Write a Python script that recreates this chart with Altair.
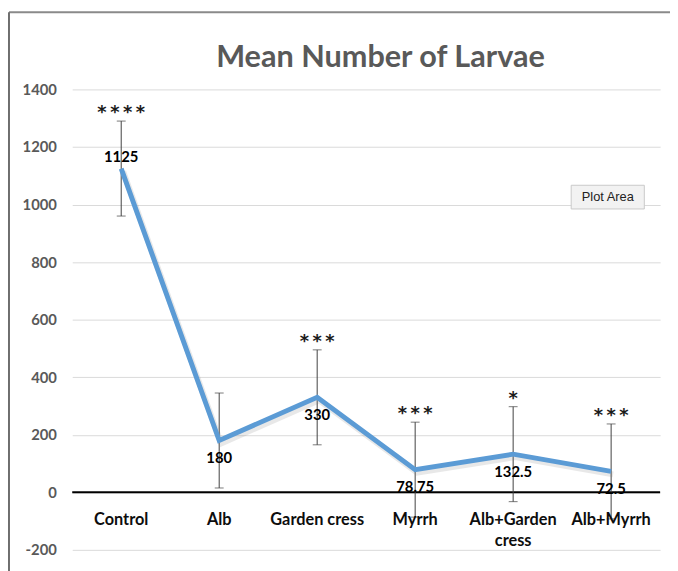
import altair as alt
import pandas as pd

categories = ["Control", "Alb", "Garden cress", "Myrrh", "Alb+Garden cress", "Alb+Myrrh"]
axis_labels = ["Control", "Alb", "Garden cress", "Myrrh", "Alb+Garden\ncress", "Alb+Myrrh"]
means = [1125, 180, 330, 78.75, 132.5, 72.5]
errors = [165, 165, 165, 165, 165, 165]
stars = ["****", "", "***", "***", "*", "***"]
value_labels = ["1125", "180", "330", "78.75", "132.5", "72.5"]
y_ticks = [-200, 0, 200, 400, 600, 800, 1000, 1200, 1400]

THIN = "\u2009"
df = pd.DataFrame({
    "cat": categories,
    "lab": axis_labels,
    "mean": means,
    "err": errors,
    "stars": stars,
    "vlab": value_labels,
})
df["lo"] = df["mean"] - df["err"]
df["hi"] = df["mean"] + df["err"]
df["sp"] = [THIN.join(list(s)) for s in stars]

FONT = "Lato"
W, H = 595, 466

xenc = alt.X("cat:N", sort=categories, axis=None,
             scale=alt.Scale(type="point", padding=0.5))
yscale = alt.Scale(domain=[-200, 1400], nice=False, zero=False)

base = alt.Chart(df)

grid = base.mark_point(opacity=0).encode(
    x=xenc,
    y=alt.Y("mean:Q", scale=yscale, title=None,
            axis=alt.Axis(values=y_ticks, grid=True, gridColor="#d9d9d9",
                          gridWidth=1, domain=False, ticks=False,
                          labelExpr="'' + datum.value",
                          labelPadding=16, labelFont=FONT, labelFontSize=15,
                          labelFontWeight="bold", labelColor="#595959")),
)

zero = alt.Chart(pd.DataFrame({"z": [0]})).mark_rule(color="black", strokeWidth=2).encode(
    y=alt.Y("z:Q", scale=yscale), x=alt.value(0), x2=alt.value(W)
)

shadow = base.mark_line(color="#7f7f7f", strokeWidth=6, opacity=0.18,
                        xOffset=2, yOffset=3, strokeJoin="miter").encode(
    x=xenc, y=alt.Y("mean:Q", scale=yscale)
)
line = base.mark_line(color="#5b9bd5", strokeWidth=5, strokeJoin="miter").encode(
    x=xenc, y=alt.Y("mean:Q", scale=yscale)
)

ebar = base.mark_rule(color="#404040", strokeWidth=1).encode(
    x=xenc, y=alt.Y("lo:Q", scale=yscale), y2="hi:Q"
)
cap_hi = base.mark_tick(color="#404040", thickness=1, size=9, orient="horizontal").encode(
    x=xenc, y=alt.Y("hi:Q", scale=yscale)
)
cap_lo = base.mark_tick(color="#404040", thickness=1, size=9, orient="horizontal").encode(
    x=xenc, y=alt.Y("lo:Q", scale=yscale)
)

star_txt = base.mark_text(font="DejaVu Sans", fontSize=18, fontWeight="bold", color="#1a1a1a",
                          baseline="alphabetic", dy=-3).encode(
    x=xenc, y=alt.Y("hi:Q", scale=yscale), text="sp:N"
)

top_lab = base.transform_filter(alt.datum.cat == "Control").mark_text(
    font=FONT, fontSize=15, fontWeight="bold", color="black", baseline="middle", dy=-12
).encode(x=xenc, y=alt.Y("mean:Q", scale=yscale), text="vlab:N")
bot_lab = base.transform_filter(alt.datum.cat != "Control").mark_text(
    font=FONT, fontSize=15, fontWeight="bold", color="black", baseline="middle", dy=18
).encode(x=xenc, y=alt.Y("mean:Q", scale=yscale), text="vlab:N")

xlab = base.mark_text(font=FONT, fontSize=16.5, fontWeight="bold", color="#0d0d0d",
                      baseline="top", dy=20, lineBreak="\n", lineHeight=21).encode(
    x=xenc, y=alt.datum(0), text="lab:N"
)

title = alt.Chart(pd.DataFrame({"t": ["Mean Number of Larvae"]})).mark_text(
    font=FONT, fontSize=31, fontWeight="bold", color="#595959", baseline="middle"
).encode(x=alt.value(312), y=alt.value(-32), text="t:N")

tip_box = alt.Chart(pd.DataFrame({"t": ["Plot Area"]})).mark_rect(
    fill="#f2f2f2", stroke="#c8c8c8", strokeWidth=1
).encode(x=alt.value(505), x2=alt.value(579), y=alt.value(97), y2=alt.value(121))
tip_txt = alt.Chart(pd.DataFrame({"t": ["Plot Area"]})).mark_text(
    font="Liberation Sans", fontSize=13, color="#222222", baseline="middle"
).encode(x=alt.value(542), y=alt.value(109), text="t:N")

frame_top = alt.Chart(pd.DataFrame({"t": [0]})).mark_rule(color="#8a8a8a", strokeWidth=2).encode(
    x=alt.value(-64), x2=alt.value(620), y=alt.value(-78)
)
frame_left = alt.Chart(pd.DataFrame({"t": [0]})).mark_rule(color="#6e6e6e", strokeWidth=2).encode(
    x=alt.value(-64), y=alt.value(-78), y2=alt.value(500)
)

chart = alt.layer(
    grid, zero, ebar, cap_hi, cap_lo, shadow, line, star_txt, top_lab, bot_lab, xlab,
    title, tip_box, tip_txt, frame_top, frame_left
).properties(
    width=W, height=H,
    autosize=alt.AutoSizeParams(type="none"),
    padding={"left": 65, "top": 79, "right": 10, "bottom": 18},
    background="white",
).configure_view(stroke=None)

chart.save("out.html", embed_options={"renderer": "svg", "actions": False})
